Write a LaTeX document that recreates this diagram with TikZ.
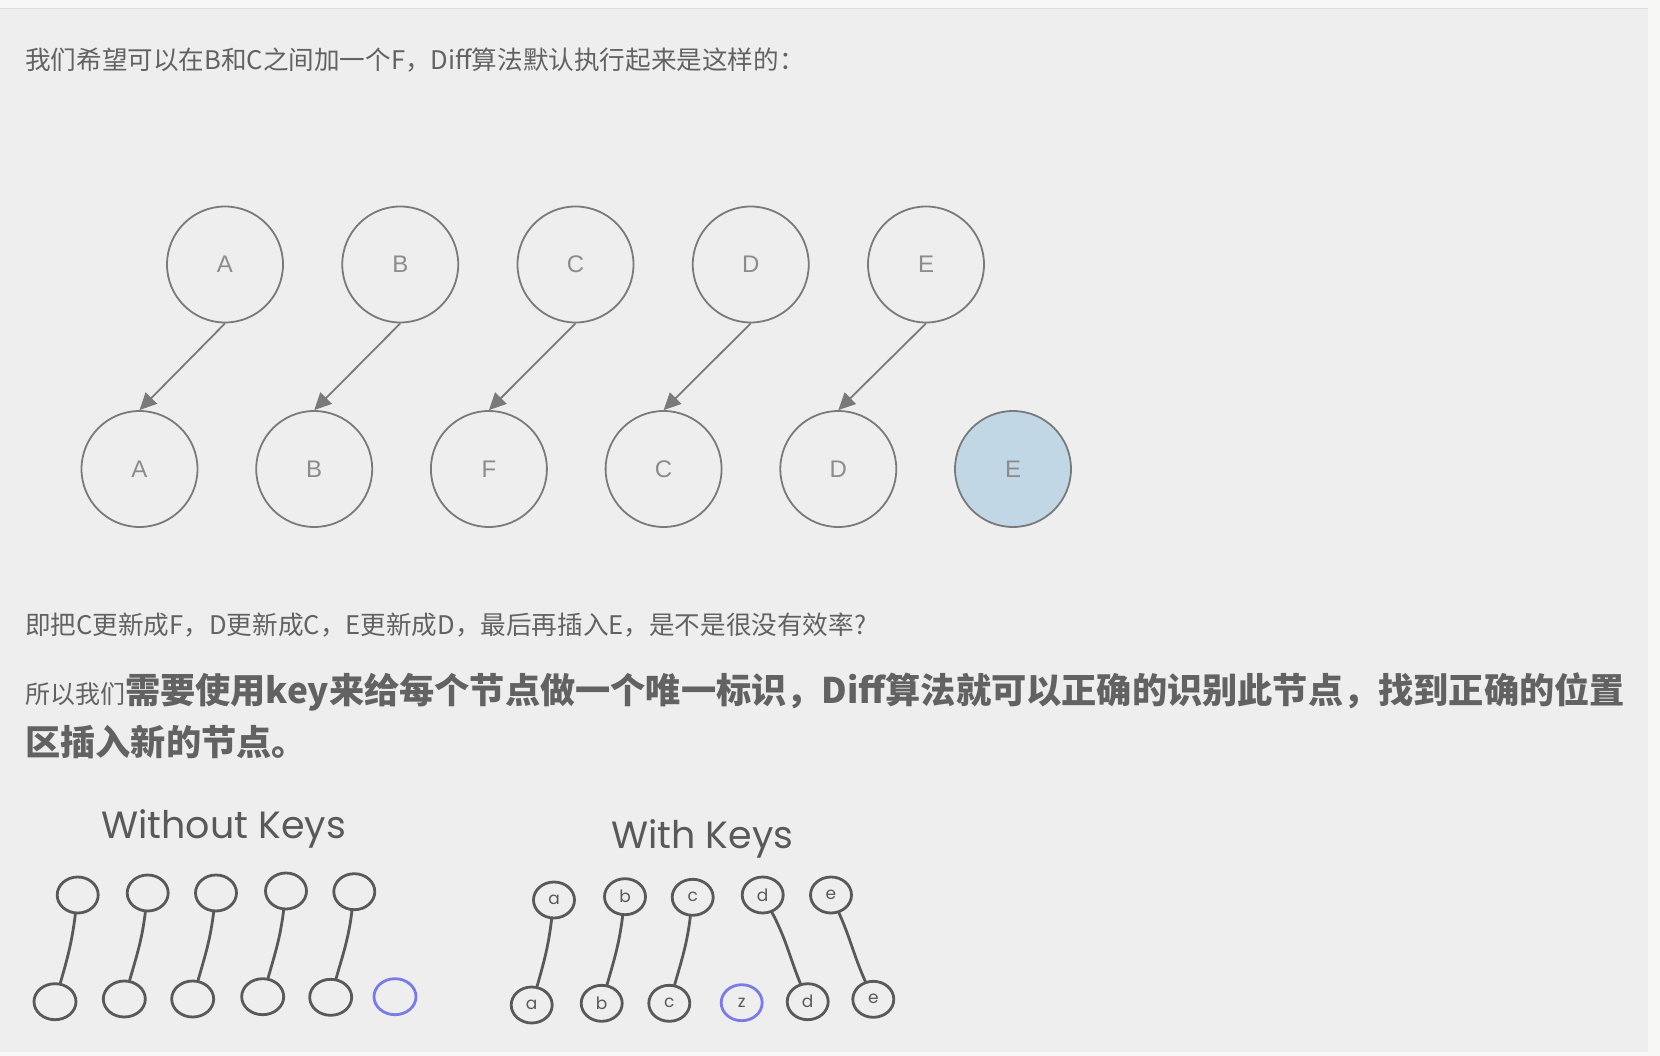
\documentclass[tikz,border=0pt]{standalone}
\usepackage{fontspec}
\setmainfont{Noto Sans CJK SC}
\newfontfamily\labfont{Liberation Sans}
\newfontfamily\handfont{Poppins}
\usetikzlibrary{arrows.meta,shapes.geometric}
\definecolor{panel}{HTML}{EEEEEE}
\definecolor{outer}{HTML}{F7F7F5}
\definecolor{txt}{HTML}{626262}
\definecolor{circ}{HTML}{7A7A7A}
\definecolor{circtxt}{HTML}{8C8C8C}
\definecolor{efill}{HTML}{C2D7E5}
\definecolor{pen}{HTML}{595959}
\definecolor{bluepen}{HTML}{7B7BE6}
\tikzset{
  bigc/.style={circle, draw=circ, line width=1.8pt, minimum size=116pt, inner sep=0pt,
    text=circtxt, font=\labfont\fontsize{24}{24}\selectfont},
  arr/.style={draw=circ, line width=1.8pt, -{Triangle[length=17pt,width=16pt]}},
  hel/.style={ellipse, draw=pen, line width=2.8pt, minimum width=41pt, minimum height=36pt,
    inner sep=0pt, text=pen, font=\handfont\fontsize{17}{17}\selectfont},
  helblue/.style={hel, draw=bluepen, text=pen},
  hline/.style={draw=pen, line width=2.8pt, line cap=round},
  para/.style={anchor=base west, inner sep=0pt, text=txt},
  handlabel/.style={anchor=base west, inner sep=0pt, text=pen, font=\handfont\fontsize{38}{38}\selectfont}
}
\begin{document}
\begin{tikzpicture}[x=1pt,y=-1pt]
\useasboundingbox (0,0) rectangle (1660,1056);
\fill[outer] (0,0) rectangle (1660,1056);
\fill[panel] (0,9) rectangle (1648,1052);
\draw[color=black!12, line width=1pt] (0,9) -- (1648,9);

% text
\node[para, font=\fontsize{25.6}{25.6}\selectfont] (l1) at (25,70) {我们希望可以在B和C之间加一个F，Diff算法默认执行起来是这样的：};
\node[para, font=\fontsize{25.6}{25.6}\selectfont] (l2) at (25,634) {即把C更新成F，D更新成C，E更新成D，最后再插入E，是不是很没有效率?};
\node[para] (l3) at (25,703) {\fontsize{25}{25}\selectfont 所以我们\fontsize{35.2}{35.2}\selectfont\bfseries 需要使用key来给每个节点做一个唯一标识，Diff算法就可以正确的识别此节点，找到正确的位置};
\node[para, font=\fontsize{35.2}{35.2}\selectfont\bfseries] (l4) at (25,755) {区插入新的节点。};

% big diagram
\node[bigc] (tA) at (225,264.5) {A};
\node[bigc] (tB) at (400.25,264.5) {B};
\node[bigc] (tC) at (575.5,264.5) {C};
\node[bigc] (tD) at (750.75,264.5) {D};
\node[bigc] (tE) at (926,264.5) {E};
\node[bigc] (bA) at (139.5,469) {A};
\node[bigc] (bB) at (314.2,469) {B};
\node[bigc] (bF) at (488.9,469) {F};
\node[bigc] (bC) at (663.6,469) {C};
\node[bigc] (bD) at (838.3,469) {D};
\node[bigc, fill=efill] (bE) at (1013,469) {E};
\draw[arr] (tA.south) -- (bA.north);
\draw[arr] (tB.south) -- (bB.north);
\draw[arr] (tC.south) -- (bF.north);
\draw[arr] (tD.south) -- (bC.north);
\draw[arr] (tE.south) -- (bD.north);

% without keys
\node[handlabel] (wk) at (101,838) {Without Keys};
\node[hel] (k1) at (77.7,895) {};
\node[hel] (k2) at (147.7,893) {};
\node[hel] (k3) at (216,893) {};
\node[hel] (k4) at (286,891) {};
\node[hel] (k5) at (354.3,891.7) {};
\node[hel, minimum width=42pt] (n1) at (55,1001.7) {};
\node[hel, minimum width=42pt] (n2) at (124.3,999) {};
\node[hel, minimum width=42pt] (n3) at (192.7,999) {};
\node[hel, minimum width=42pt] (n4) at (262.7,996.7) {};
\node[hel, minimum width=42pt] (n5) at (330.7,997.3) {};
\node[helblue, minimum width=42pt] (n6) at (395,996.7) {};
\draw[hline] (k1) to[out=-97,in=74] (n1);
\draw[hline] (k2) to[out=-97,in=74] (n2);
\draw[hline] (k3) to[out=-97,in=74] (n3);
\draw[hline] (k4) to[out=-97,in=74] (n4);
\draw[hline] (k5) to[out=-97,in=74] (n5);

% with keys
\node[handlabel] (wkk) at (611,848) {With Keys};
\node[hel] (wa1) at (554,900) {a};
\node[hel] (wb1) at (625,896.7) {b};
\node[hel] (wc1) at (692.7,897.3) {c};
\node[hel] (wd1) at (762.7,895) {d};
\node[hel] (we1) at (831,895) {e};
\node[hel] (wa2) at (531.7,1005) {a};
\node[hel] (wb2) at (601.7,1003.3) {b};
\node[hel] (wc2) at (669.3,1003.3) {c};
\node[helblue] (wz2) at (741.7,1002.7) {z};
\node[hel] (wd2) at (807.7,1001.7) {d};
\node[hel] (we2) at (873.3,999.3) {e};
\draw[hline] (wa1) to[out=-97,in=74] (wa2);
\draw[hline] (wb1) to[out=-97,in=74] (wb2);
\draw[hline] (wc1) to[out=-97,in=74] (wc2);
\draw[hline] (wd1) to[out=-62,in=112] (wd2);
\draw[hline] (we1) to[out=-66,in=114] (we2);
\end{tikzpicture}
\end{document}
